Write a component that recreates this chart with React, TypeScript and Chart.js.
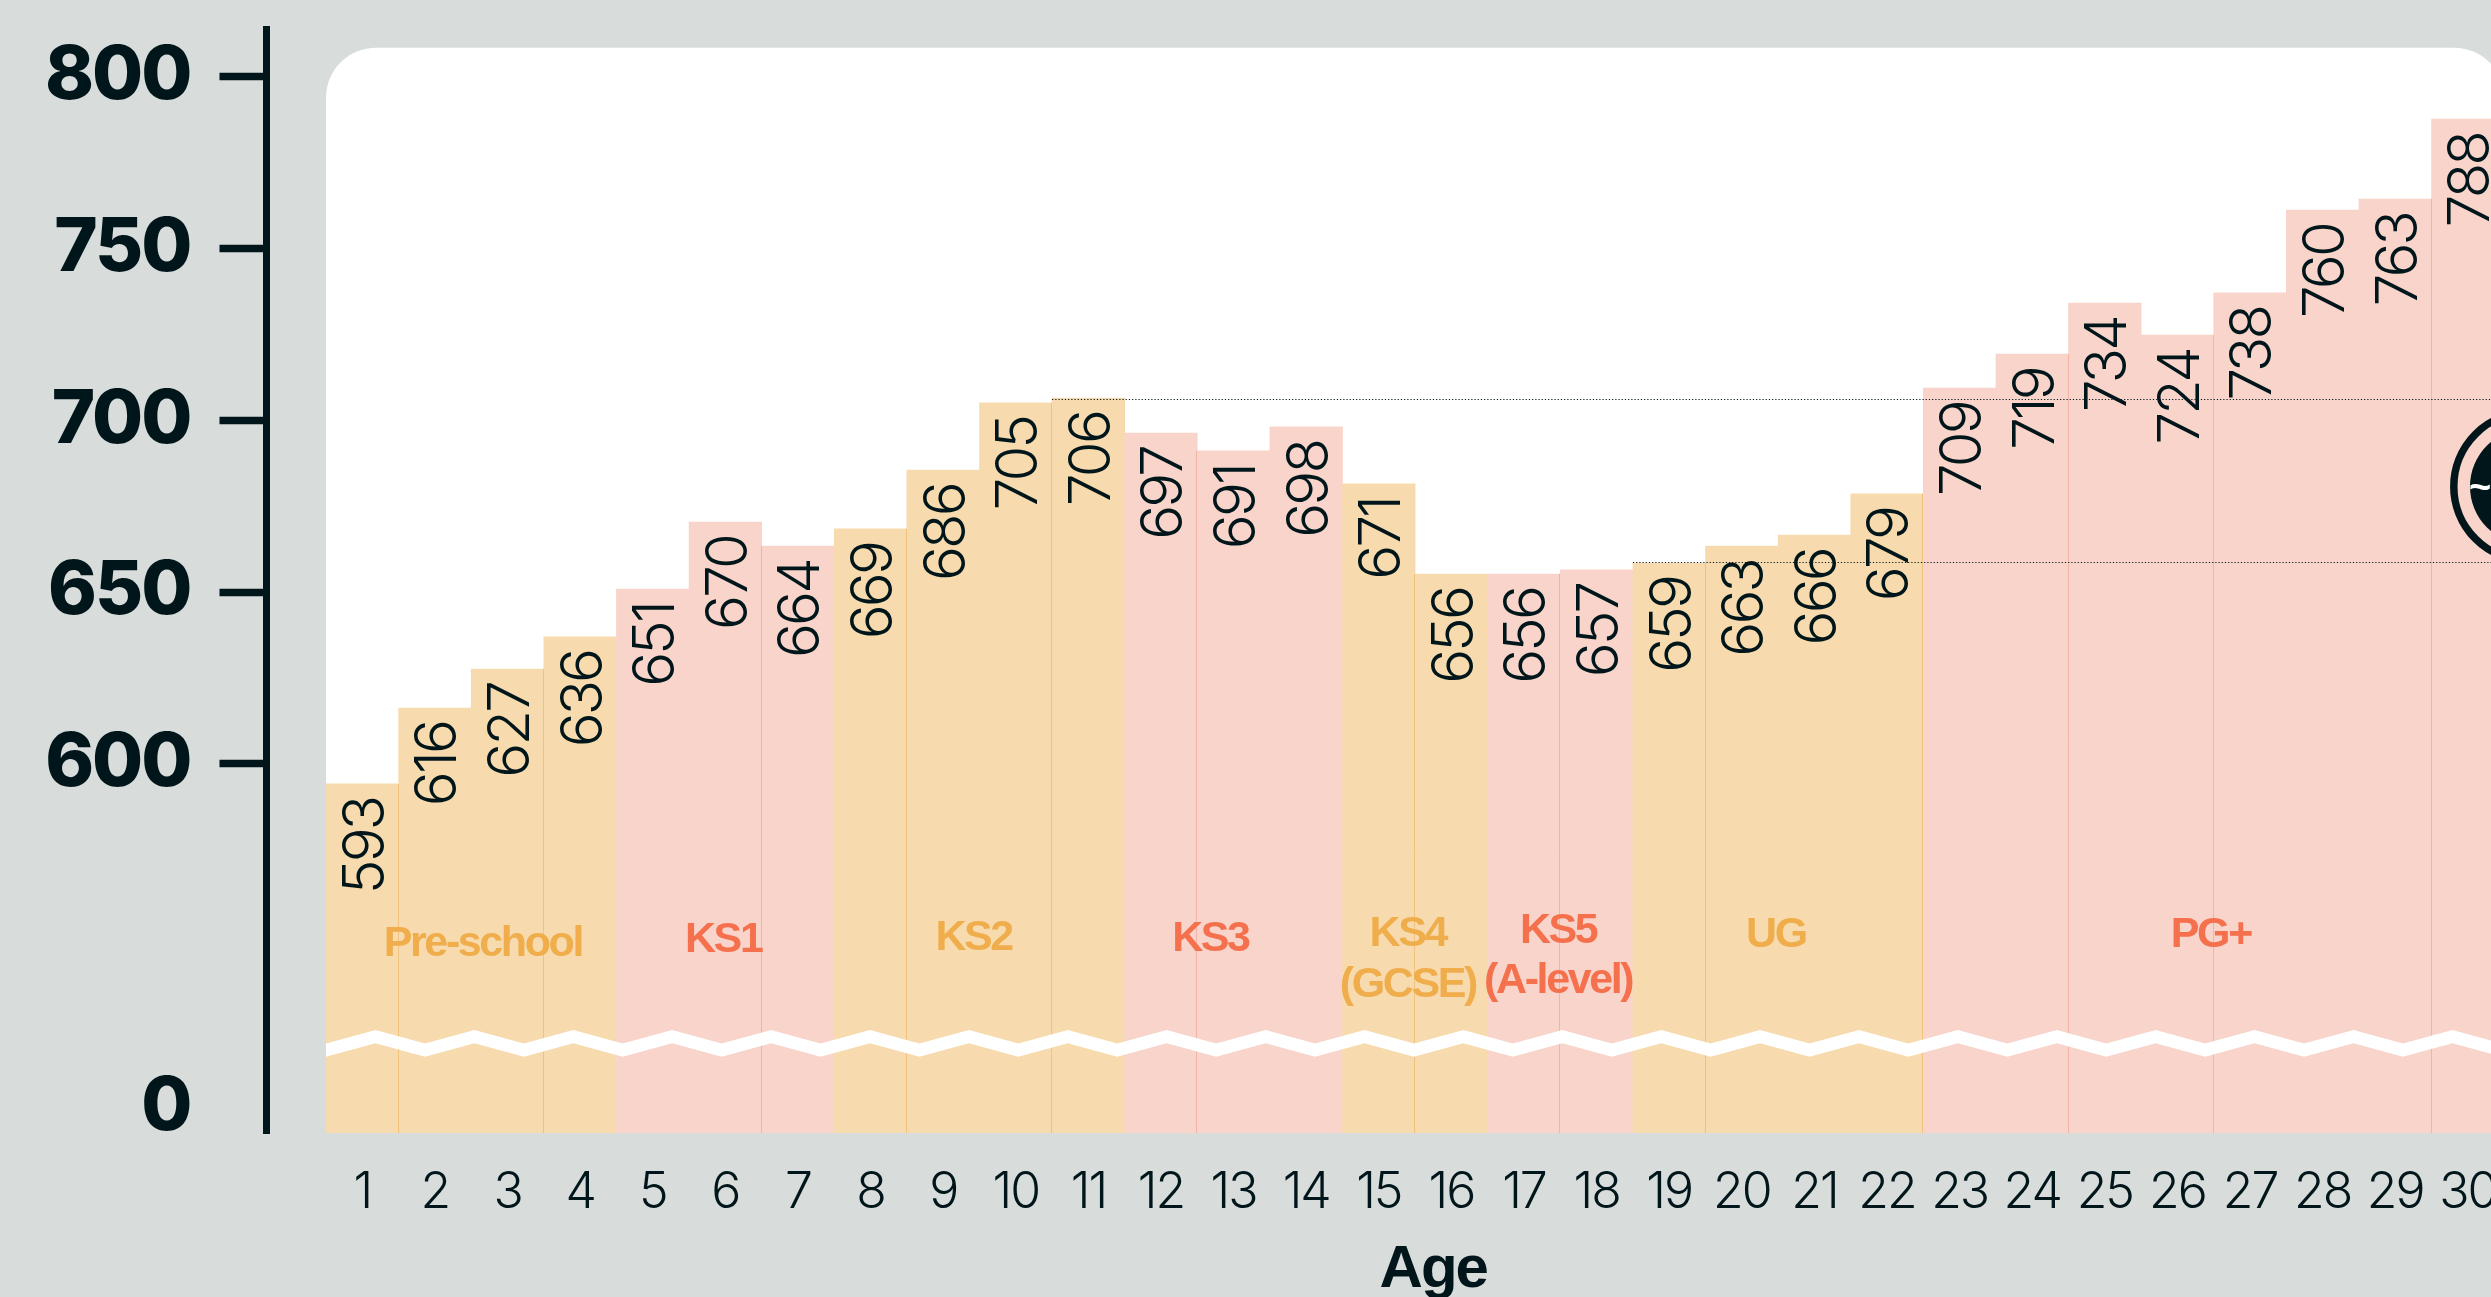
import React, { useEffect, useRef } from "react";
import { Chart, registerables } from "chart.js";

Chart.register(...registerables);

const ages = [1,2,3,4,5,6,7,8,9,10,11,12,13,14,15,16,17,18,19,20,21,22,23,24,25,26,27,28,29,30];
const printedValues = [593,616,627,636,651,670,664,669,686,705,706,697,691,698,671,656,656,657,659,663,666,679,709,719,734,724,738,760,763,788];
const barHeights = [594.2,616.3,627.6,637,650.9,670.4,663.4,668.4,685.5,705.1,706.5,696.3,691.1,698.1,681.5,655.3,655.3,656.5,658.5,663.4,666.6,678.6,709.4,719.3,734.1,724.8,737.1,761.2,764.4,787.7];
const stageOfAge = ["o","o","o","o","p","p","p","o","o","o","o","p","p","p","o","o","p","p","o","o","o","o","p","p","p","p","p","p","p","p"];
const yTickValues = [600,650,700,750,800];
const seamAfterAges = [1,3,6,8,10,12,15,17,19,22,24,26,29];
const referenceLevels = [{ value: 705.9, fromAge: 11 }, { value: 658.5, fromAge: 19 }];

const BREAK_TICK = 499.9;
const INK = "#00161a";
const BG = "#d8dcdb";
const ORANGE = "#f7dbae";
const PINK = "#f8d4cb";
const ORANGE_TXT = "#f0ad4c";
const CORAL_TXT = "#f5704c";

const stageLabels = [
  { text: "Pre-school", age: 2.66, y: 944, c: ORANGE_TXT },
  { text: "KS1", age: 5.97, y: 940, c: CORAL_TXT },
  { text: "KS2", age: 9.42, y: 938, c: ORANGE_TXT },
  { text: "KS3", age: 12.68, y: 939, c: CORAL_TXT },
  { text: "KS4", age: 15.4, y: 934, c: ORANGE_TXT },
  { text: "(GCSE)", age: 15.4, y: 985, c: ORANGE_TXT },
  { text: "KS5", age: 17.47, y: 931, c: CORAL_TXT },
  { text: "(A-level)", age: 17.47, y: 981, c: CORAL_TXT },
  { text: "UG", age: 20.47, y: 935, c: ORANGE_TXT },
  { text: "PG+", age: 26.46, y: 935, c: CORAL_TXT },
];

const panelAndBreak = {
  id: "panelAndBreak",
  beforeDraw(chart: any) {
    chart.ctx.letterSpacing = "-2px";
  },
  beforeDatasetsDraw(chart: any) {
    const { ctx, scales: { x }, chartArea } = chart;
    const l = x.getPixelForValue(0.5), r = x.getPixelForValue(30.5);
    ctx.save();
    ctx.fillStyle = "#fff";
    ctx.beginPath();
    ctx.roundRect(l, 47.7, r - l, chartArea.bottom - 47.7, [50, 50, 0, 0]);
    ctx.fill();
    ctx.restore();
  },
  afterDatasetsDraw(chart: any) {
    const { ctx, scales: { x, y }, chartArea } = chart;
    const bars = chart.getDatasetMeta(0).data;
    ctx.save();

    // seams between some neighbouring bars
    ctx.lineWidth = 1;
    seamAfterAges.forEach((a) => {
      const i = a - 1;
      const px = Math.round(x.getPixelForValue(a + 0.5)) - 0.5;
      ctx.strokeStyle = stageOfAge[i] === "o" ? "#f0c27c" : "#f0b5a6";
      ctx.beginPath();
      ctx.moveTo(px, Math.max(bars[i].y, bars[i + 1].y));
      ctx.lineTo(px, chartArea.bottom);
      ctx.stroke();
    });

    // axis-break zigzag
    const left = x.getPixelForValue(0.5), right = x.getPixelForValue(30.5);
    const period = 98.9, yHi = 1030, yLo = 1043.6, band = 13.2;
    const pts: [number, number][] = [];
    let k = 0;
    for (let px = left; px < right + period; px += period / 2) {
      pts.push([px, k % 2 === 0 ? yLo : yHi]);
      k++;
    }
    ctx.fillStyle = "#fff";
    ctx.beginPath();
    pts.forEach(([a, b], i) => (i ? ctx.lineTo(a, b) : ctx.moveTo(a, b)));
    [...pts].reverse().forEach(([a, b]) => ctx.lineTo(a, b + band));
    ctx.closePath();
    ctx.fill();

    // stage names
    ctx.textAlign = "center";
    ctx.textBaseline = "middle";
    ctx.font = "bold 43px 'Liberation Sans'";
    ctx.letterSpacing = "-2.4px";
    stageLabels.forEach((s) => {
      ctx.fillStyle = s.c;
      ctx.fillText(s.text, x.getPixelForValue(s.age), s.y);
    });

    // reference levels
    ctx.letterSpacing = "0px";
    ctx.strokeStyle = INK;
    ctx.lineWidth = 1;
    ctx.setLineDash([1.2, 2]);
    referenceLevels.forEach((lv) => {
      const py = Math.round(y.getPixelForValue(lv.value)) - 0.5;
      ctx.beginPath();
      ctx.moveTo(x.getPixelForValue(lv.fromAge - 0.5), py);
      ctx.lineTo(right, py);
      ctx.stroke();
    });
    ctx.setLineDash([]);

    // printed values
    ctx.fillStyle = INK;
    ctx.font = "280 58px Inter";
    ctx.letterSpacing = "-2.8px";
    ctx.textAlign = "right";
    ctx.textBaseline = "middle";
    bars.forEach((b: any, i: number) => {
      ctx.save();
      ctx.translate(b.x + 4, b.y + 14);
      ctx.rotate(-Math.PI / 2);
      ctx.fillText(String(printedValues[i]), 0, 0);
      ctx.restore();
    });
    ctx.letterSpacing = "0px";

    // badge at the right edge
    const cx = 2528, cy = 486.5;
    ctx.strokeStyle = INK;
    ctx.lineWidth = 7.5;
    ctx.beginPath();
    ctx.arc(cx, cy, 74.2, 0, Math.PI * 2);
    ctx.stroke();
    ctx.fillStyle = INK;
    ctx.beginPath();
    ctx.arc(cx, cy, 58, 0, Math.PI * 2);
    ctx.fill();
    ctx.fillStyle = "#fff";
    ctx.textAlign = "left";
    ctx.font = "bold 38px 'Liberation Sans'";
    ctx.fillText("~", 2469, 490);
    ctx.restore();
  },
};

const noEdgePadding = (s: any) => {
  s.paddingTop = 0;
  s.paddingBottom = 0;
  s.paddingLeft = 0;
  s.paddingRight = 0;
};

export default function App() {
  const ref = useRef<HTMLCanvasElement>(null);
  useEffect(() => {
    document.body.style.margin = "0";
    const chart = new Chart(ref.current!, {
      type: "bar",
      data: {
        datasets: [
          {
            data: ages.map((a, i) => ({ x: a, y: barHeights[i] })),
            backgroundColor: stageOfAge.map((s) => (s === "o" ? ORANGE : PINK)),
            borderWidth: 0,
            barPercentage: 1,
            categoryPercentage: 1,
          },
        ],
      },
      options: {
        animation: false,
        responsive: false,
        layout: { padding: { top: 29, left: 0, right: 0, bottom: 0 } },
        plugins: { legend: { display: false }, tooltip: { enabled: false }, title: { display: false } },
        scales: {
          x: {
            type: "linear",
            offset: false,
            min: -0.32,
            max: 31.82,
            afterFit: (s: any) => { s.height = 164; noEdgePadding(s); },
            afterBuildTicks: (s: any) => { s.ticks = ages.map((v) => ({ value: v })); },
            grid: { display: false, drawTicks: false },
            border: { display: false },
            ticks: {
              autoSkip: false,
              maxRotation: 0,
              padding: 30,
              color: INK,
              font: { family: "Inter", weight: "280", size: 50 },
              callback: (v: any) => String(v),
            },
            title: {
              display: true,
              text: "Age",
              color: INK,
              font: { family: "'Liberation Sans'", weight: "bold", size: 60 },
              padding: { top: 28, bottom: -9 },
            },
          },
          y: {
            type: "linear",
            min: 492.6,
            max: 813.9,
            afterFit: (s: any) => { s.width = 266.5; noEdgePadding(s); },
            afterBuildTicks: (s: any) => {
              s.ticks = [BREAK_TICK, ...yTickValues].map((v) => ({ value: v }));
            },
            border: { display: true, color: INK, width: 7 },
            grid: {
              drawOnChartArea: false,
              drawTicks: true,
              tickLength: 47,
              tickWidth: 7.5,
              tickColor: (c: any) => (c.tick && c.tick.value === BREAK_TICK ? "rgba(0,0,0,0)" : INK),
            },
            ticks: {
              autoSkip: false,
              padding: 29,
              color: INK,
              font: { family: "Inter", weight: "800", size: 74 },
              callback: (v: any) => (v === BREAK_TICK ? "0" : String(v)),
            },
          },
        },
      },
      plugins: [panelAndBreak],
    } as any);
    return () => chart.destroy();
  }, []);
  return (
    <div style={{ width: 2491, height: 1297, overflow: "hidden", background: BG }}>
      <canvas ref={ref} width={2600} height={1297} style={{ display: "block" }} />
    </div>
  );
}
